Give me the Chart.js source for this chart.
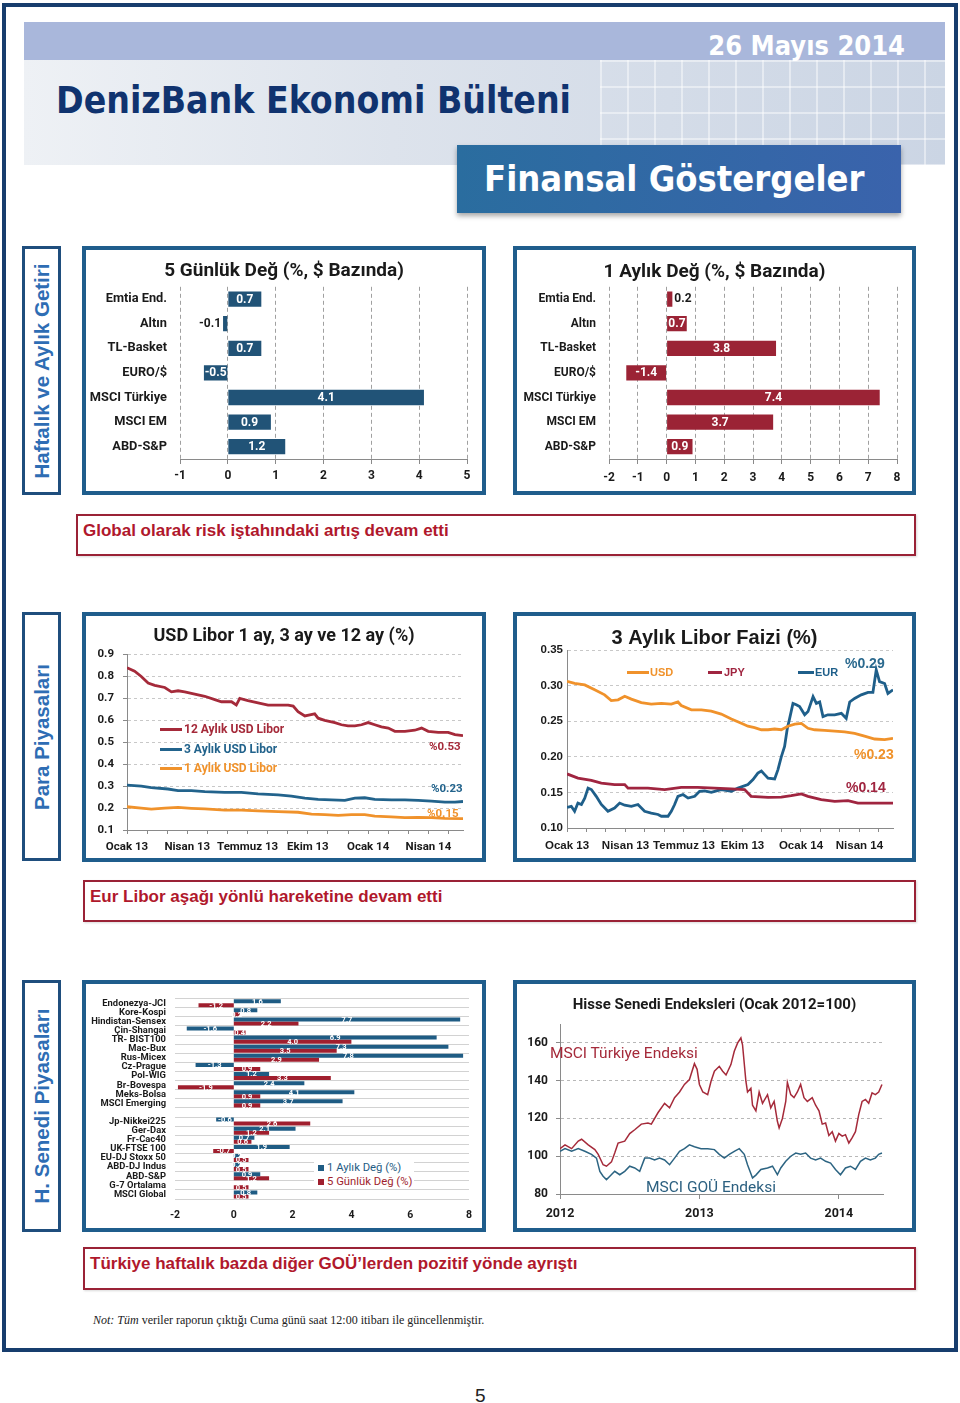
<!DOCTYPE html>
<html lang="tr">
<head>
<meta charset="utf-8">
<script src="https://cdn.jsdelivr.net/npm/chart.js@4.4.1/dist/chart.umd.min.js"></script>
<style>
html,body{margin:0;padding:0;background:#fff;}
#page{position:relative;width:960px;height:1403px;overflow:hidden;font-family:'Liberation Sans',Arial,sans-serif;}
.abs{position:absolute;}
#outer{left:2px;top:3px;width:956px;height:1349px;border:4px solid #173d6d;box-sizing:border-box;}
#hdr{left:24px;top:22px;width:921px;height:143px;
  background:linear-gradient(180deg,#a9b7db 0,#a9b7db 38px,rgba(0,0,0,0) 38px),
             linear-gradient(90deg,#eef1f5 0%,#dde3ec 40%,#cbd5e4 100%);}
#grid{left:600px;top:60px;width:345px;height:105px;
  background:repeating-linear-gradient(90deg,rgba(255,255,255,0.45) 0 2px,rgba(255,255,255,0) 2px 27px),
             repeating-linear-gradient(180deg,rgba(255,255,255,0.45) 0 2px,rgba(255,255,255,0) 2px 26px);}
#date{right:55px;top:30px;color:#fff;font:bold 27px 'DejaVu Sans Condensed','DejaVu Sans',sans-serif;font-stretch:condensed;line-height:32px;}
#brand{left:56px;top:79px;color:#10336f;font:bold 37px 'DejaVu Sans Condensed','DejaVu Sans',sans-serif;font-stretch:condensed;line-height:44px;white-space:nowrap;}
#fgbox{left:457px;top:145px;width:444px;height:68px;background:linear-gradient(90deg,#2a6d9f,#3a63ac);box-shadow:0 3px 5px rgba(0,0,0,0.35);}
#fgtext{left:484px;top:157px;color:#fff;font:bold 36px 'DejaVu Sans Condensed','DejaVu Sans',sans-serif;font-stretch:condensed;line-height:44px;white-space:nowrap;}
.side{width:39px;border:3px solid #1f4e7d;box-sizing:border-box;background:#fff;}
.side span{position:absolute;left:50%;top:50%;transform:translate(-50%,-50%) rotate(-90deg);white-space:nowrap;color:#2e6db4;font:bold 20.5px 'Liberation Sans',Arial,sans-serif;}
.frame{border:4px solid #1f5d8c;box-sizing:border-box;background:#fff;}
.cmt{border:2px solid #9a2236;box-sizing:border-box;background:#fff;box-shadow:1px 1px 2px rgba(0,0,0,0.15);}
.cmt span{position:absolute;left:5px;top:5px;color:#b0182c;font:bold 17px 'Liberation Sans',Arial,sans-serif;white-space:nowrap;}
canvas{position:absolute;}
.ann{position:absolute;white-space:nowrap;line-height:1;}
.lg{position:absolute;white-space:nowrap;line-height:1;display:flex;align-items:center;}
.lg i{display:inline-block;}
</style>
</head>
<body>
<div id="page">
  <div id="outer" class="abs"></div>
  <div id="hdr" class="abs"></div>
  <div id="grid" class="abs"></div>
  <div id="date" class="abs">26 Mayıs 2014</div>
  <div id="brand" class="abs">DenizBank Ekonomi Bülteni</div>
  <div id="fgbox" class="abs"></div>
  <div id="fgtext" class="abs">Finansal Göstergeler</div>

  <div class="abs side" style="left:22px;top:246px;height:249px;"><span>Haftalık ve Aylık Getiri</span></div>
  <div class="abs frame" style="left:82px;top:246px;width:404px;height:249px;"></div>
  <div class="abs frame" style="left:513px;top:246px;width:403px;height:249px;"></div>
  <canvas id="c1" width="396" height="241" style="left:86px;top:250px;"></canvas>
  <canvas id="c2" width="395" height="241" style="left:517px;top:250px;"></canvas>
  <div class="abs cmt" style="left:76px;top:514px;width:840px;height:42px;"><span>Global olarak risk iştahındaki artış devam etti</span></div>

  <div class="abs side" style="left:22px;top:612px;height:249px;"><span>Para Piyasaları</span></div>
  <div class="abs frame" style="left:82px;top:612px;width:404px;height:250px;"></div>
  <div class="abs frame" style="left:513px;top:612px;width:403px;height:250px;"></div>
  <canvas id="c3" width="396" height="242" style="left:86px;top:616px;"></canvas>
  <canvas id="c4" width="395" height="242" style="left:517px;top:616px;"></canvas>
  <div class="abs cmt" style="left:83px;top:880px;width:833px;height:42px;"><span>Eur Libor aşağı yönlü hareketine devam etti</span></div>

  <div class="abs side" style="left:22px;top:980px;height:252px;"><span>H. Senedi Piyasaları</span></div>
  <div class="abs frame" style="left:82px;top:980px;width:404px;height:252px;"></div>
  <div class="abs frame" style="left:513px;top:980px;width:403px;height:252px;"></div>
  <canvas id="c5" width="396" height="244" style="left:86px;top:984px;"></canvas>
  <canvas id="c6" width="395" height="244" style="left:517px;top:984px;"></canvas>
  <div class="abs cmt" style="left:83px;top:1247px;width:833px;height:43px;"><span>Türkiye haftalık bazda diğer GOÜ’lerden pozitif yönde ayrıştı</span></div>

  <div class="abs" style="left:93px;top:1313px;font:12px 'Liberation Serif','Times New Roman',serif;color:#222;white-space:nowrap;"><i>Not: Tüm</i> veriler raporun çıktığı Cuma günü saat 12:00 itibarı ile güncellenmiştir.</div>
  <div class="abs" style="left:475px;top:1385px;font:19px 'Liberation Sans',Arial,sans-serif;color:#222;">5</div>

  <!-- chart 3 legend & annotations -->
  <div class="lg" style="left:160px;top:722px;color:#a52a3a;font:bold 12px Roboto,sans-serif;"><i style="width:22px;height:3px;background:#a52a3a;margin-right:2px;"></i>12 Aylık USD Libor</div>
  <div class="lg" style="left:160px;top:742px;color:#22638c;font:bold 12px Roboto,sans-serif;"><i style="width:22px;height:3px;background:#22638c;margin-right:2px;"></i>3 Aylık USD Libor</div>
  <div class="lg" style="left:160px;top:761px;color:#f0922b;font:bold 12px Roboto,sans-serif;"><i style="width:22px;height:3px;background:#f0922b;margin-right:2px;"></i>1 Aylık USD Libor</div>
  <div class="ann" style="left:429px;top:739px;color:#a52a3a;font:bold 11.5px Roboto,sans-serif;">%0.53</div>
  <div class="ann" style="left:431px;top:781px;color:#22638c;font:bold 11.5px Roboto,sans-serif;">%0.23</div>
  <div class="ann" style="left:427px;top:806px;color:#f0922b;font:bold 11.5px Roboto,sans-serif;">%0.15</div>

  <!-- chart 4 legend & annotations -->
  <div class="lg" style="left:627px;top:666px;color:#f0922b;font:bold 11px 'Liberation Sans',Arial,sans-serif;"><i style="width:22px;height:3px;background:#f0922b;margin-right:1px;"></i>USD</div>
  <div class="lg" style="left:708px;top:666px;color:#a02540;font:bold 11px 'Liberation Sans',Arial,sans-serif;"><i style="width:14px;height:3px;background:#a02540;margin-right:2px;"></i>JPY</div>
  <div class="lg" style="left:798px;top:666px;color:#1f5f8a;font:bold 11px 'Liberation Sans',Arial,sans-serif;"><i style="width:16px;height:3px;background:#1f5f8a;margin-right:1px;"></i>EUR</div>
  <div class="ann" style="left:845px;top:655px;color:#2b6a8f;font:bold 14px 'Liberation Sans',Arial,sans-serif;">%0.29</div>
  <div class="ann" style="left:854px;top:746px;color:#f0922b;font:bold 14px 'Liberation Sans',Arial,sans-serif;">%0.23</div>
  <div class="ann" style="left:846px;top:779px;color:#a02540;font:bold 14px 'Liberation Sans',Arial,sans-serif;">%0.14</div>

  <!-- chart 5 legend -->
  <div class="abs" style="left:314px;top:1159px;width:100px;height:30px;background:#fff;"></div>
  <div class="lg" style="left:318px;top:1161px;color:#1f5c84;font:11.3px Roboto,sans-serif;"><i style="width:6px;height:6px;background:#1f5c84;margin-right:3px;"></i>1 Aylık Değ (%)</div>
  <div class="lg" style="left:318px;top:1175px;color:#a01f2e;font:11.3px Roboto,sans-serif;"><i style="width:6px;height:6px;background:#a01f2e;margin-right:3px;"></i>5 Günlük Değ (%)</div>

  <!-- chart 6 annotations -->
  <div class="ann" style="left:550px;top:1044px;color:#a52a3a;font:15.5px Roboto,sans-serif;">MSCI Türkiye Endeksi</div>
  <div class="ann" style="left:646px;top:1178px;color:#2c6080;font:15.5px Roboto,sans-serif;">MSCI GOÜ Endeksi</div>
</div>

<script>
// ---------------- DATA ----------------
const perfCategories = ['Emtia End.', 'Altın', 'TL-Basket', 'EURO/$', 'MSCI Türkiye', 'MSCI EM', 'ABD-S&P'];
const perf5Day   = [0.7, -0.1, 0.7, -0.5, 4.1, 0.9, 1.2];
const perf1Month = [0.2, 0.7, 3.8, -1.4, 7.4, 3.7, 0.9];

const liborTickLabels = ['Ocak 13', 'Nisan 13', 'Temmuz 13', 'Ekim 13', 'Ocak 14', 'Nisan 14'];
const liborMonthTicks = [0,1,2,3,4,5,6,7,8,9,10,11,12,13,14,15,16];

const usd12mMonths = [0,0.38,0.71,1.05,1.38,1.88,2.21,2.54,2.87,3.37,3.87,4.37,4.70,5.20,5.44,5.61,6.02,6.52,7.02,7.52,8.02,8.27,8.51,8.85,9.10,9.34,9.51,9.84,10.34,10.67,11.00,11.34,11.67,12.00,12.33,12.66,13.00,13.33,13.83,14.32,14.66,14.99,15.49,15.98,16.32,16.72];
const usd12mValues = [0.84,0.824,0.80,0.77,0.76,0.75,0.73,0.735,0.73,0.72,0.71,0.695,0.685,0.685,0.67,0.70,0.69,0.68,0.67,0.67,0.67,0.665,0.64,0.62,0.625,0.63,0.61,0.60,0.59,0.58,0.575,0.575,0.58,0.59,0.58,0.57,0.565,0.55,0.55,0.555,0.565,0.55,0.545,0.545,0.535,0.53];

const usd3mMonths = [0,0.71,1.21,2.04,2.54,3.20,3.87,4.86,5.69,6.52,7.52,8.18,8.85,9.51,10.17,10.84,11.34,11.83,12.33,13.16,13.83,14.49,15.15,15.82,16.32,16.72];
const usd3mValues = [0.305,0.30,0.293,0.287,0.28,0.28,0.275,0.272,0.272,0.265,0.26,0.255,0.245,0.24,0.237,0.235,0.245,0.247,0.24,0.237,0.237,0.235,0.232,0.227,0.227,0.23];

const usd1mMonths = [0,0.71,1.21,1.88,2.54,3.20,3.87,4.86,5.69,6.52,7.52,8.51,9.18,9.84,10.51,11.17,11.83,12.33,13.16,13.83,14.49,15.15,15.82,16.72];
const usd1mValues = [0.206,0.20,0.195,0.20,0.203,0.199,0.196,0.191,0.191,0.187,0.184,0.181,0.172,0.17,0.167,0.17,0.17,0.163,0.16,0.156,0.158,0.156,0.153,0.152];

const libUsdMonths = [0,0.39,0.91,1.42,1.93,2.27,2.62,2.96,3.30,3.81,4.32,4.84,5.35,5.69,5.86,6.38,6.89,7.40,7.91,8.43,8.94,9.28,9.62,9.97,10.31,10.65,10.99,11.33,11.68,12.02,12.36,12.70,13.21,13.73,14.24,14.75,15.26,15.78,16.29,16.72];
const libUsdValues = [0.306,0.303,0.301,0.294,0.287,0.279,0.28,0.285,0.281,0.276,0.274,0.275,0.274,0.277,0.272,0.266,0.266,0.264,0.26,0.253,0.247,0.243,0.241,0.238,0.238,0.239,0.238,0.243,0.246,0.247,0.24,0.238,0.237,0.236,0.235,0.233,0.229,0.225,0.224,0.226];

const libJpyMonths = [0,0.56,1.25,1.76,2.44,2.96,3.13,4.15,5.01,5.86,6.70,7.57,8.43,9.11,9.44,10.31,10.99,11.50,12.02,12.36,13.04,13.73,14.41,14.92,15.78,16.72];
const libJpyValues = [0.176,0.170,0.167,0.163,0.161,0.161,0.156,0.156,0.154,0.157,0.157,0.156,0.155,0.154,0.1445,0.143,0.1435,0.1455,0.148,0.1445,0.14,0.1375,0.1385,0.135,0.135,0.135];

const libEurMonths = [0,0.22,0.39,0.56,0.74,0.91,1.08,1.25,1.50,1.76,2.10,2.44,2.70,2.96,3.30,3.64,3.98,4.32,4.67,4.84,5.18,5.35,5.52,5.69,5.95,6.21,6.55,6.80,7.06,7.40,7.91,8.43,8.77,9.28,9.54,9.79,9.97,10.14,10.31,10.65,10.82,10.99,11.16,11.30,11.42,11.59,11.76,11.93,12.19,12.36,12.62,12.79,12.96,13.13,13.38,13.73,14.07,14.32,14.50,14.75,15.09,15.44,15.69,15.86,16.03,16.29,16.46,16.72];
const libEurValues = [0.129,0.1305,0.1235,0.135,0.133,0.142,0.156,0.154,0.1445,0.133,0.1235,0.128,0.135,0.132,0.1305,0.133,0.1235,0.121,0.119,0.1165,0.1165,0.1235,0.133,0.1445,0.147,0.142,0.1445,0.1515,0.152,0.150,0.154,0.1515,0.156,0.161,0.168,0.177,0.180,0.175,0.170,0.169,0.182,0.20,0.2145,0.240,0.254,0.275,0.273,0.2705,0.259,0.2635,0.2845,0.275,0.277,0.2565,0.259,0.259,0.261,0.254,0.277,0.282,0.287,0.2905,0.2905,0.322,0.3056,0.303,0.289,0.294];

const eqCategories = ['Endonezya-JCI','Kore-Kospi','Hindistan-Sensex','Çin-Shangai','TR- BIST100','Mac-Bux','Rus-Micex','Cz-Prague','Pol-WIG','Br-Bovespa','Meks-Bolsa','MSCI Emerging','','Jp-Nikkei225','Ger-Dax','Fr-Cac40','UK-FTSE 100','EU-DJ Stoxx 50','ABD-DJ Indus','ABD-S&P','G-7 Ortalama','MSCI Global'];
const eq1Month = [1.6,0.8,7.7,-1.6,6.9,7.3,7.8,-1.3,1.2,2.4,4.1,3.7,null,-0.6,2.1,0.7,1.9,0.2,0.2,0.9,null,0.8];
const eq5Day   = [-1.2,0.2,2.2,0.4,4.0,3.5,2.9,0.9,3.3,-1.9,0.9,0.9,null,2.6,1.2,0.6,-0.7,0.5,0.5,1.2,0.5,0.5];

const yearTickLabels = ['2012', '2013', '2014'];
const yearTickMonths = [0, 12, 24];
const turMonths = [0,0.43,1.0,1.57,1.86,2.43,3.0,3.29,3.71,4.0,4.43,4.71,5.0,5.57,6.0,6.43,7.0,7.57,7.86,8.43,9.0,9.43,9.86,10.29,10.71,11.14,11.57,11.8,12.0,12.29,12.71,13.0,13.29,13.71,14.0,14.29,14.71,15.0,15.29,15.57,15.71,16.0,16.14,16.43,16.57,16.86,17.14,17.43,17.86,18.14,18.43,18.71,18.86,19.14,19.43,19.57,19.86,20.14,20.43,20.71,21.0,21.29,21.71,22.0,22.29,22.57,22.86,23.14,23.43,23.71,24.0,24.29,24.57,24.86,25.14,25.43,25.71,26.0,26.29,26.57,26.86,27.14,27.43,27.71];
const turValues = [104,106,104,108,109,106,103.5,101,95.5,94.7,97,101.7,107,108,112,114,117,117.6,117,123,128,125.6,131,134,138,140.6,149,146,138,134,132.6,139.7,145,147.6,145,143,148.5,155.6,160,162.6,159,139.7,134,136,127,124,134,128,132.6,125.6,129,118.5,115,120,129,139,132.6,131,134,138,131,129,131,127,124,117,117.6,111,113,108,112,110.6,111.4,107,109.7,113,122,129,130,128,133.5,132.6,134,138];
const emMonths = [0,0.43,1.0,1.57,2.14,2.71,3.14,3.43,3.71,4.0,4.29,4.71,5.14,5.57,6.0,6.43,6.86,7.29,7.71,8.14,8.57,9.0,9.43,9.86,10.29,10.71,11.14,11.57,12.14,12.71,13.29,13.71,14.14,14.57,15.0,15.43,15.86,16.14,16.57,16.86,17.29,17.86,18.29,18.71,19.0,19.43,19.86,20.29,20.71,21.14,21.57,22.0,22.43,22.86,23.29,23.71,24.14,24.57,25.0,25.43,25.86,26.29,26.71,27.14,27.43,27.71];
const emValues = [102.6,104,102.6,104,102.6,101,99,92,89.4,87.6,89.4,92,90.2,92,94.7,93.8,92,99,99,98,99,98,95.5,99,102.6,104,106,105,104,104,103.5,101,99,101,102.6,104,101,95.5,88.5,90,93,93.8,94.7,90.2,93.8,97.3,100,101.7,101,101.7,99,98,99,97.3,96.4,93,90.2,93.8,94.7,93,97.3,99,98,99,101,101.7];

// ---------------- HELPERS ----------------
const SANS = "Roboto, 'Open Sans', sans-serif";
const ARIAL = "'Liberation Sans', Arial, sans-serif";
const TXT = '#1a1a1a';
Chart.defaults.animation = false;
Chart.defaults.responsive = false;
Chart.defaults.plugins.legend.display = false;
Chart.defaults.plugins.tooltip.enabled = false;

function pts(xs, ys) { return xs.map((x, i) => ({ x: x, y: ys[i] })); }

// an empty right-hand axis that only reserves space, so the title stays centred on the canvas
function spacerAxis(w) {
  return { type: 'linear', position: 'right', display: true,
    ticks: { display: false }, grid: { display: false, drawTicks: false }, border: { display: false },
    afterFit: s => { s.width = w; } };
}

const barLabelPlugin = {
  id: 'barLabels',
  afterDatasetsDraw(chart, args, opts) {
    const ctx = chart.ctx;
    chart.data.datasets.forEach((ds, di) => {
      const meta = chart.getDatasetMeta(di);
      meta.data.forEach((bar, i) => {
        const v = ds.data[i];
        if (v === null || v === undefined) return;
        const txt = v.toFixed(1);
        const w = Math.abs(bar.x - bar.base);
        ctx.save();
        ctx.font = opts.font;
        ctx.textBaseline = 'middle';
        if (w < opts.minInside) {
          ctx.fillStyle = opts.outsideColor;
          if (v >= 0) { ctx.textAlign = 'left'; ctx.fillText(txt, bar.x + 2, bar.y); }
          else { ctx.textAlign = 'right'; ctx.fillText(txt, bar.x - 2, bar.y); }
        } else {
          ctx.fillStyle = opts.color;
          ctx.textAlign = 'center';
          ctx.fillText(txt, (bar.x + bar.base) / 2, bar.y + 0.5);
        }
        ctx.restore();
      });
    });
  }
};

function perfChart(id, values, color, xmin, xmax, title, L) {
  new Chart(document.getElementById(id), {
    type: 'bar',
    data: { labels: perfCategories, datasets: [{ data: values, backgroundColor: color, barPercentage: 0.62, categoryPercentage: 1 }] },
    options: {
      indexAxis: 'y',
      layout: { padding: 0 },
      plugins: {
        title: { display: true, text: title, color: TXT, font: { family: SANS, size: 19, weight: 'bold' }, padding: { top: L.tTop, bottom: L.tBottom } },
        barLabels: { font: "bold 12px Roboto", color: '#ffffff', outsideColor: TXT, minInside: 10 }
      },
      scales: {
        x: {
          type: 'linear', min: xmin, max: xmax,
          ticks: { stepSize: 1, color: TXT, font: { family: SANS, size: 12, weight: 'bold' }, padding: L.xPad },
          grid: { color: '#a0a0a0', drawTicks: true, tickLength: 5, tickColor: '#8a8a8a' },
          border: { display: true, color: '#8a8a8a', dash: [4, 3] },
          afterFit: s => { s.height = L.xh; }
        },
        y: {
          grid: { display: false, drawTicks: false },
          border: { display: false },
          ticks: { color: TXT, font: { family: SANS, size: L.labSize, weight: 'bold' }, padding: L.labPad },
          afterFit: s => { s.width = L.yw; }
        },
        yR: spacerAxis(L.right)
      }
    },
    plugins: [barLabelPlugin]
  });
}

// ---------------- CHART 1 & 2 ----------------
perfChart('c1', perf5Day, '#215377', -1, 5, '5 Günlük Değ (%, $ Bazında)',
  { right: 15, tTop: 10, tBottom: 4, xPad: 5, xh: 32, labPad: 13, labSize: 12.8, yw: 94 });
perfChart('c2', perf1Month, '#9b2335', -2, 8, '1 Aylık Değ (%, $ Bazında)',
  { right: 15, tTop: 11, tBottom: 3, xPad: 7, xh: 32, labPad: 13, labSize: 12, yw: 92 });

// ---------------- CHART 3 ----------------
function lineDs(xs, ys, color, w) {
  return { data: pts(xs, ys), borderColor: color, borderWidth: w, pointRadius: 0, tension: 0, fill: false };
}
new Chart(document.getElementById('c3'), {
  type: 'line',
  data: { datasets: [
    lineDs(usd12mMonths, usd12mValues, '#a52a3a', 2.8),
    lineDs(usd3mMonths, usd3mValues, '#22638c', 2.8),
    lineDs(usd1mMonths, usd1mValues, '#f0922b', 2.8)
  ] },
  options: {
    layout: { padding: 0 },
    plugins: { title: { display: true, text: 'USD Libor 1 ay, 3 ay ve 12 ay (%)', color: TXT, font: { family: SANS, size: 18, weight: 'bold' }, padding: { top: 10, bottom: 7 } } },
    scales: {
      x: {
        type: 'linear', min: 0, max: 16.72,
        afterBuildTicks: s => { s.ticks = liborMonthTicks.map(v => ({ value: v })); },
        ticks: { autoSkip: false, maxRotation: 0, minRotation: 0, color: TXT, font: { family: SANS, size: 11.5, weight: 'bold' }, padding: 6,
          callback: v => (v % 3 === 0 ? liborTickLabels[v / 3] : '') },
        grid: { drawOnChartArea: false, drawTicks: true, tickLength: 4, color: '#8a8a8a' },
        border: { color: '#8a8a8a' },
        afterFit: s => { s.height = 28; }
      },
      y: {
        min: 0.1, max: 0.9,
        ticks: { stepSize: 0.1, color: TXT, font: { family: SANS, size: 11.5, weight: 'bold' }, padding: 9, callback: v => v.toFixed(1) },
        grid: { color: '#c8c8c8', drawTicks: true, tickLength: 4, tickColor: '#8a8a8a' },
        border: { color: '#8a8a8a', dash: [3, 3] },
        afterFit: s => { s.width = 41; }
      },
      yR: spacerAxis(19)
    }
  }
});

// ---------------- CHART 4 ----------------
new Chart(document.getElementById('c4'), {
  type: 'line',
  data: { datasets: [
    lineDs(libUsdMonths, libUsdValues, '#f0922b', 2.8),
    lineDs(libJpyMonths, libJpyValues, '#a02540', 2.8),
    lineDs(libEurMonths, libEurValues, '#1f5f8a', 2.8)
  ] },
  options: {
    layout: { padding: 0 },
    plugins: { title: { display: true, text: '3 Aylık Libor Faizi (%)', color: TXT, font: { family: ARIAL, size: 20, weight: 'bold' }, padding: { top: 10, bottom: 0 } } },
    scales: {
      x: {
        type: 'linear', min: 0, max: 16.72,
        afterBuildTicks: s => { s.ticks = liborMonthTicks.map(v => ({ value: v })); },
        ticks: { autoSkip: false, maxRotation: 0, minRotation: 0, color: TXT, font: { family: ARIAL, size: 11.5, weight: 'bold' }, padding: 7,
          callback: v => (v % 3 === 0 ? liborTickLabels[v / 3] : '') },
        grid: { drawOnChartArea: false, drawTicks: true, tickLength: 4, color: '#8a8a8a' },
        border: { color: '#8a8a8a' },
        afterFit: s => { s.height = 30; }
      },
      y: {
        min: 0.1, max: 0.35,
        ticks: { stepSize: 0.05, color: TXT, font: { family: ARIAL, size: 11.5, weight: 'bold' }, padding: 4, callback: v => v.toFixed(2) },
        grid: { color: '#c8c8c8', drawTicks: false },
        border: { color: '#8a8a8a', dash: [3, 3] },
        afterFit: s => { s.width = 50; }
      },
      yR: spacerAxis(19)
    }
  }
});

// ---------------- CHART 5 ----------------
new Chart(document.getElementById('c5'), {
  type: 'bar',
  data: { labels: eqCategories, datasets: [
    { label: '1 Aylık Değ (%)', data: eq1Month, backgroundColor: '#1f5c84', categoryPercentage: 0.88, barPercentage: 1 },
    { label: '5 Günlük Değ (%)', data: eq5Day, backgroundColor: '#a01f2e', categoryPercentage: 0.88, barPercentage: 1 }
  ] },
  options: {
    indexAxis: 'y',
    layout: { padding: { left: 0, right: 13, top: 7, bottom: 0 } },
    plugins: { barLabels: { font: "bold 7.5px Roboto", color: '#ffffff', outsideColor: '#ffffff', minInside: 0 } },
    scales: {
      x: {
        type: 'linear', min: -2, max: 8,
        ticks: { stepSize: 2, color: TXT, font: { family: SANS, size: 10.5, weight: 'bold' }, padding: 10 },
        grid: { display: false, drawTicks: false },
        border: { display: false },
        afterFit: s => { s.height = 29; }
      },
      y: {
        grid: { color: '#d2d2d2', drawTicks: false },
        border: { display: false },
        ticks: { autoSkip: false, color: TXT, font: { family: SANS, size: 9.4, weight: 'bold' }, padding: 9 },
        afterFit: s => { s.width = 89; }
      }
    }
  },
  plugins: [barLabelPlugin]
});

// ---------------- CHART 6 ----------------
new Chart(document.getElementById('c6'), {
  type: 'line',
  data: { datasets: [
    lineDs(turMonths, turValues, '#a52a3a', 1.5),
    lineDs(emMonths, emValues, '#2c6482', 1.5)
  ] },
  options: {
    layout: { padding: 0 },
    plugins: { title: { display: true, text: 'Hisse Senedi Endeksleri (Ocak 2012=100)', color: TXT, font: { family: SANS, size: 15, weight: 'bold' }, padding: { top: 12, bottom: 10 } } },
    scales: {
      x: {
        type: 'linear', min: 0, max: 27.8,
        afterBuildTicks: s => { s.ticks = yearTickMonths.map(v => ({ value: v })); },
        ticks: { autoSkip: false, maxRotation: 0, color: TXT, font: { family: SANS, size: 12.5, weight: 'bold' }, padding: 7,
          callback: (v, i) => yearTickLabels[i] },
        grid: { drawOnChartArea: false, drawTicks: true, tickLength: 5, color: '#8a8a8a' },
        border: { color: '#8a8a8a' },
        afterFit: s => { s.height = 34; }
      },
      y: {
        min: 80, max: 170,
        afterBuildTicks: s => { s.ticks = s.ticks.filter(t => Math.round(t.value) % 20 === 0); },
        ticks: { stepSize: 10, color: TXT, font: { family: SANS, size: 12, weight: 'bold' }, padding: 8 },
        grid: { color: '#b8b8b8', drawTicks: true, tickLength: 4, tickColor: '#8a8a8a' },
        border: { color: '#8a8a8a', dash: [3, 3] },
        afterFit: s => { s.width = 43; }
      },
      yR: spacerAxis(29)
    }
  }
});
</script>
</body>
</html>
